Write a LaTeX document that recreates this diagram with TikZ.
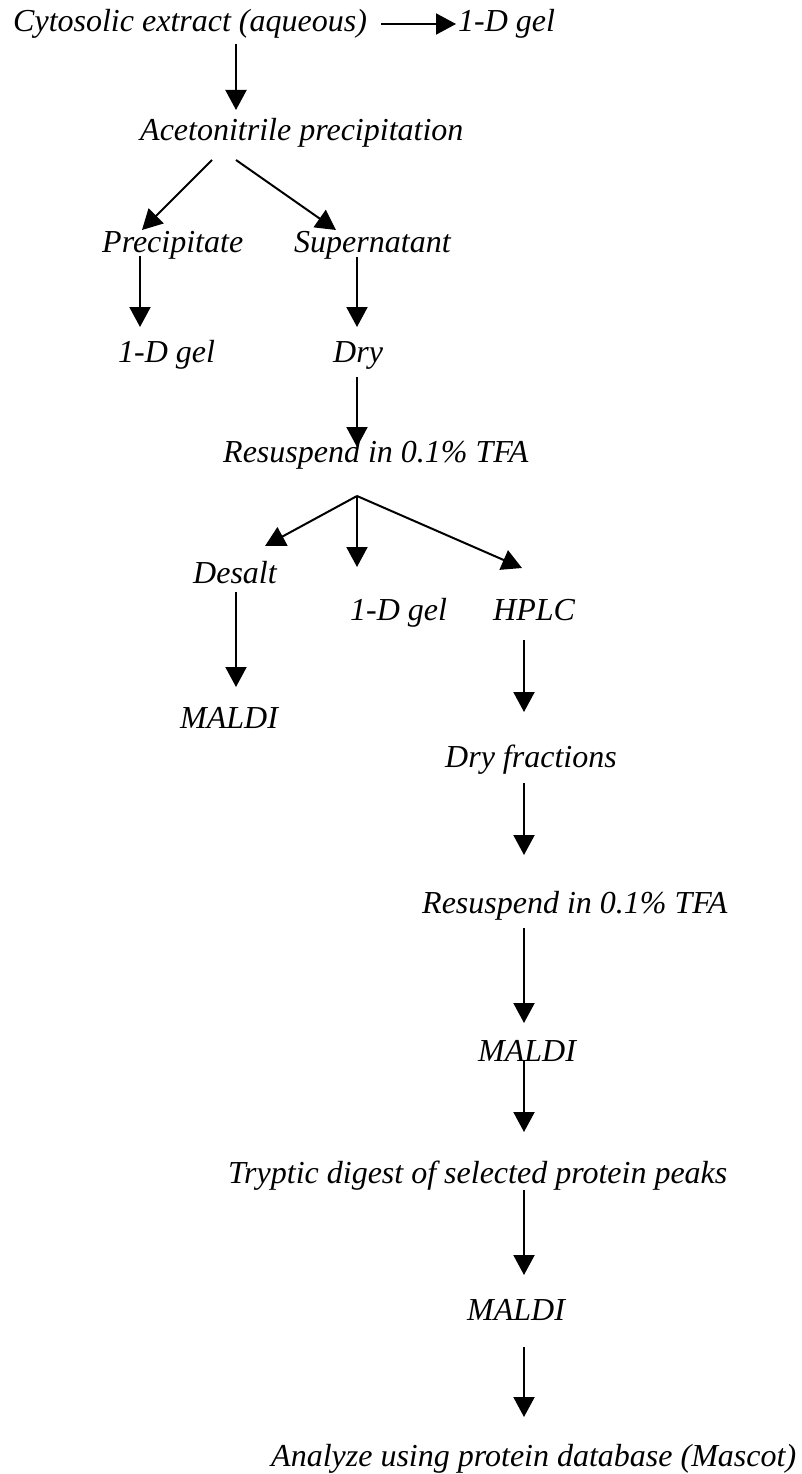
\documentclass[tikz,border=0pt]{standalone}
\usepackage{fontspec}
\setmainfont{Liberation Serif}
\usetikzlibrary{arrows.meta,calc}

\begin{document}
\begin{tikzpicture}[x=1pt,y=-1pt,
  stage/.style={anchor=base west,inner sep=0pt,font=\itshape\fontsize{32}{38}\selectfont},
  flow/.style={-{Triangle[length=20pt,width=21pt]},line width=2pt}]
  \fill[white] (0,0) rectangle (801,1474);
  \useasboundingbox (0,0) rectangle (801,1474);

  % stages, placed at their baselines
  \node[stage] (cyto) at (13,32) {Cytosolic extract (aqueous)};
  \node[stage] (gelA) at (458,32) {1-D gel};
  \node[stage] (aceto) at (140,141) {Acetonitrile precipitation};
  \node[stage] (precip) at (102,252) {Precipitate};
  \node[stage] (super) at (294,252) {Supernatant};
  \node[stage] (gelB) at (118,362) {1-D gel};
  \node[stage] (dry) at (333,362) {Dry};
  \node[stage] (resusA) at (223,462) {Resuspend in 0.1\% TFA};
  \node[stage] (desalt) at (193,583) {Desalt};
  \node[stage] (gelC) at (350,620) {1-D gel};
  \node[stage] (hplc) at (493,620) {HPLC};
  \node[stage] (maldiA) at (180,728) {MALDI};
  \node[stage] (dryfrac) at (445,767) {Dry fractions};
  \node[stage] (resusB) at (422,913) {Resuspend in 0.1\% TFA};
  \node[stage] (maldiB) at (478,1061) {MALDI};
  \node[stage] (tryptic) at (228,1183) {Tryptic digest of selected protein peaks};
  \node[stage] (maldiC) at (467,1320) {MALDI};
  \node[stage] (analyze) at (271,1466) {Analyze using protein database (Mascot)};

  % upper part
  \draw[flow] ($(cyto.base west)+(368,-8)$) -- ($(gelA.base west)+(-2,-8)$);
  \draw[flow] ($(cyto.base west)+(223,12)$) -- ($(aceto.base west)+(96,-31)$);
  \draw[flow] ($(aceto.base west)+(72,19)$) -- ($(precip.base west)+(40,-22)$);
  \draw[flow] ($(aceto.base west)+(96,19)$) -- ($(super.base west)+(42,-22)$);
  \draw[flow] ($(precip.base west)+(38,4)$) -- ($(gelB.base west)+(22,-35)$);
  \draw[flow] ($(super.base west)+(63,5)$) -- ($(dry.base west)+(24,-35)$);
  \draw[flow] ($(dry.base west)+(24,15)$) -- ($(resusA.base west)+(134,-15)$);
  % three-way split
  \draw[flow] ($(resusA.base west)+(134,34)$) -- ($(desalt.base west)+(72,-37)$);
  \draw[flow] ($(resusA.base west)+(134,34)$) -- ($(gelC.base west)+(7,-53)$);
  \draw[flow] ($(resusA.base west)+(134,34)$) -- ($(hplc.base west)+(29,-52)$);
  \draw[flow] ($(desalt.base west)+(43,9)$) -- ($(maldiA.base west)+(56,-41)$);
  % HPLC column
  \draw[flow] ($(hplc.base west)+(31,20)$) -- ($(dryfrac.base west)+(79,-55)$);
  \draw[flow] ($(dryfrac.base west)+(79,16)$) -- ($(resusB.base west)+(102,-58)$);
  \draw[flow] ($(resusB.base west)+(102,15)$) -- ($(maldiB.base west)+(46,-38)$);
  \draw[flow] ($(maldiB.base west)+(46,-1)$) -- ($(tryptic.base west)+(296,-51)$);
  \draw[flow] ($(tryptic.base west)+(296,7)$) -- ($(maldiC.base west)+(57,-45)$);
  \draw[flow] ($(maldiC.base west)+(57,27)$) -- ($(analyze.base west)+(253,-49)$);
\end{tikzpicture}
\end{document}
